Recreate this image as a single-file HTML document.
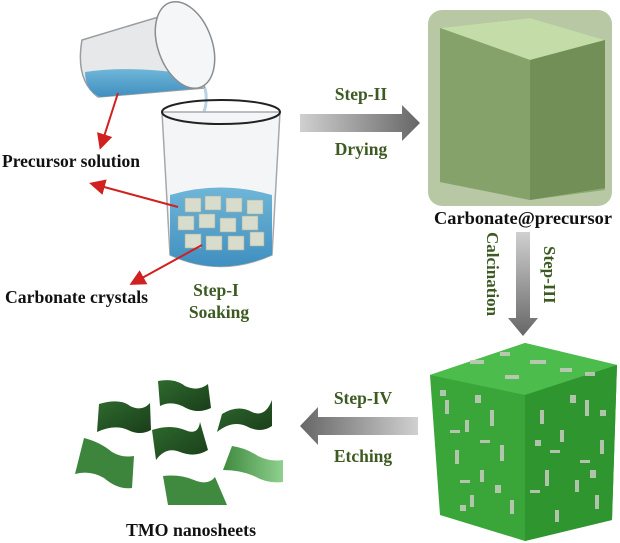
<!DOCTYPE html>
<html><head><meta charset="utf-8"><style>
html,body{margin:0;padding:0;background:#fff;width:620px;height:543px;overflow:hidden}
svg{display:block}
text{font-family:"Liberation Serif",serif;font-weight:bold}
</style></head><body>
<svg width="620" height="543" viewBox="0 0 620 543" xmlns="http://www.w3.org/2000/svg">
<defs>
<linearGradient id="ah" x1="0" x2="1"><stop offset="0" stop-color="#d0d0d0"/><stop offset="1" stop-color="#666"/></linearGradient>
<linearGradient id="ahl" x1="1" x2="0"><stop offset="0" stop-color="#d0d0d0"/><stop offset="1" stop-color="#666"/></linearGradient>
<linearGradient id="av" x1="0" x2="0" y1="0" y2="1"><stop offset="0" stop-color="#d0d0d0"/><stop offset="1" stop-color="#666"/></linearGradient>
<linearGradient id="sh" x1="0" x2="1" y1="0" y2="1"><stop offset="0" stop-color="#2e6a2e"/><stop offset="1" stop-color="#1a3d1a"/></linearGradient>
<linearGradient id="sh2" x1="0" x2="1"><stop offset="0" stop-color="#3f8a3f"/><stop offset="1" stop-color="#8fd08f"/></linearGradient>
<linearGradient id="wat" x1="0" x2="0" y1="0" y2="1"><stop offset="0" stop-color="#6fb6d8"/><stop offset="1" stop-color="#3f8fc0"/></linearGradient>
<marker id="rh" markerWidth="8" markerHeight="8" refX="6" refY="4" orient="auto"><path d="M0,0 L8,4 L0,8 Z" fill="#d02020"/></marker>
</defs>

<!-- tilted beaker -->
<g>
<path d="M82,40 L175,12 Q195,60 205,88 L98,97 Q75,80 82,40 Z" fill="#e6e8ea" stroke="#9a9ea2" stroke-width="1.5"/>
<path d="M85,72 Q130,65 195,75 L200,88 L100,97 Q85,90 85,72 Z" fill="url(#wat)"/>
<ellipse cx="185" cy="45" rx="27" ry="45" transform="rotate(-20 185 45)" fill="#f4f6f7" stroke="#8a8e92" stroke-width="1.5"/>
<path d="M205,88 Q208,100 204,112" stroke="#b8d4e4" stroke-width="3" fill="none"/>
</g>
<!-- big beaker -->
<g>
<path d="M162,112 L170,255 Q220,278 272,255 L280,112 Z" fill="#f3f5f6" stroke="#a5a9ad" stroke-width="1.5"/>
<path d="M170,195 Q220,180 272,195 L272,255 Q220,278 170,255 Z" fill="url(#wat)"/>
<g fill="#d8dccc" stroke="#a8ae98" stroke-width="0.6">
<rect x="185" y="198" width="16" height="14"/><rect x="205" y="196" width="16" height="14"/><rect x="226" y="198" width="16" height="14"/><rect x="247" y="200" width="16" height="14"/>
<rect x="178" y="216" width="16" height="14"/><rect x="199" y="214" width="16" height="14"/><rect x="220" y="218" width="16" height="14"/><rect x="242" y="216" width="16" height="14"/>
<rect x="185" y="234" width="16" height="14"/><rect x="206" y="236" width="16" height="14"/><rect x="228" y="236" width="16" height="14"/><rect x="250" y="232" width="14" height="14"/>
</g>
<ellipse cx="221" cy="112" rx="59" ry="12" fill="none" stroke="#222" stroke-width="2"/>
</g>
<!-- red arrows -->
<g stroke="#d02020" stroke-width="2" fill="none">
<line x1="118" y1="93" x2="101" y2="146" marker-end="url(#rh)"/>
<line x1="178" y1="207" x2="93" y2="184" marker-end="url(#rh)"/>
<line x1="202" y1="245" x2="133" y2="283" marker-end="url(#rh)"/>
</g>

<text x="2" y="167" font-size="17.5" fill="#111" textLength="138" lengthAdjust="spacingAndGlyphs">Precursor solution</text>
<text x="5" y="303" font-size="17.5" fill="#111" textLength="143" lengthAdjust="spacingAndGlyphs">Carbonate crystals</text>
<text x="216" y="296" font-size="17.5" fill="#3d5a22" text-anchor="middle">Step-I</text>
<text x="219" y="318" font-size="17.5" fill="#3d5a22" text-anchor="middle">Soaking</text>

<!-- step II arrow -->
<path d="M300,114 L402,114 L402,105 L420,123 L402,141 L402,132 L300,132 Z" fill="url(#ah)"/>
<text x="361" y="100" font-size="17.5" fill="#3d5a22" text-anchor="middle">Step-II</text>
<text x="361" y="155" font-size="17.5" fill="#3d5a22" text-anchor="middle">Drying</text>

<!-- precursor cube -->
<rect x="428" y="10" width="184" height="196" rx="14" fill="#b8c8a4"/>
<path d="M440,28 L530,18 L605,40 L605,190 L530,200 L440,182 Z" fill="#8fab72"/>
<path d="M440,28 L530,18 L605,40 L530,60 Z" fill="#c4dca8"/>
<path d="M530,60 L605,40 L605,188 L530,200 Z" fill="#718f56"/>
<path d="M440,28 L530,60 L530,200 L440,182 Z" fill="#86a26b"/>
<text x="523" y="224" font-size="17.5" fill="#111" text-anchor="middle" textLength="178" lengthAdjust="spacingAndGlyphs">Carbonate@precursor</text>

<!-- step III -->
<path d="M516,232 L530,232 L530,318 L538,318 L523,336 L508,318 L516,318 Z" fill="url(#av)"/>
<text transform="translate(487,232) rotate(90)" font-size="17" fill="#3d5a22">Calcination</text>
<text transform="translate(544,246) rotate(90)" font-size="17" fill="#3d5a22">Step-III</text>

<!-- textured cube -->
<g>
<path d="M430,375 L525,343 L617,365 L612,520 L525,541 L440,515 Z" fill="#3aa63a"/>
<path d="M430,375 L525,343 L617,365 L525,395 Z" fill="#4cbc4c"/>
<path d="M525,395 L617,365 L612,520 L525,541 Z" fill="#2f962f"/>
<g fill="#c8ccc0" opacity="0.85">
<rect x="470" y="360" width="14" height="4"/><rect x="500" y="352" width="10" height="4"/><rect x="530" y="360" width="16" height="4"/><rect x="560" y="368" width="12" height="4"/><rect x="585" y="372" width="10" height="4"/><rect x="505" y="375" width="14" height="4"/>
<rect x="445" y="400" width="4" height="14"/><rect x="465" y="420" width="4" height="12"/><rect x="490" y="410" width="4" height="16"/><rect x="455" y="450" width="4" height="14"/><rect x="480" y="470" width="4" height="12"/><rect x="500" y="445" width="4" height="16"/><rect x="470" y="495" width="4" height="12"/><rect x="510" y="500" width="4" height="14"/>
<rect x="540" y="410" width="4" height="14"/><rect x="560" y="430" width="4" height="12"/><rect x="585" y="400" width="4" height="16"/><rect x="600" y="440" width="4" height="14"/><rect x="545" y="470" width="4" height="16"/><rect x="575" y="480" width="4" height="12"/><rect x="595" y="495" width="4" height="14"/><rect x="555" y="510" width="4" height="12"/>
<rect x="450" y="430" width="10" height="3"/><rect x="480" y="440" width="10" height="3"/><rect x="550" y="450" width="10" height="3"/><rect x="580" y="460" width="10" height="3"/><rect x="460" y="480" width="10" height="3"/><rect x="530" y="490" width="10" height="3"/>
<rect x="440" y="390" width="6" height="6"/><rect x="475" y="395" width="6" height="8"/><rect x="460" y="505" width="6" height="6"/><rect x="570" y="395" width="6" height="8"/><rect x="600" y="410" width="6" height="6"/><rect x="590" y="470" width="6" height="8"/><rect x="535" y="440" width="6" height="6"/><rect x="495" y="485" width="6" height="8"/>
</g>
</g>

<!-- step IV arrow -->
<path d="M418,417 L318,417 L318,407 L300,426 L318,445 L318,435 L418,435 Z" fill="url(#ahl)"/>
<text x="363" y="404" font-size="17.5" fill="#3d5a22" text-anchor="middle">Step-IV</text>
<text x="363" y="462" font-size="17.5" fill="#3d5a22" text-anchor="middle">Etching</text>

<!-- nanosheets -->
<g>
<path d="M99,404 Q120,398 130,406 Q142,412 150,403 L151,430 Q140,436 128,430 Q115,424 97,432 Z" fill="url(#sh)"/>
<path d="M158,381 Q175,378 185,386 Q198,392 208,384 L211,408 Q198,414 186,408 Q172,400 160,406 Z" fill="url(#sh)"/>
<path d="M222,414 Q238,404 252,412 Q265,418 272,400 L272,426 Q260,434 246,426 Q232,420 217,432 Z" fill="url(#sh)"/>
<path d="M152,430 Q170,424 185,430 Q198,436 200,422 L208,450 Q195,458 180,452 Q166,446 156,460 Z" fill="url(#sh)"/>
<path d="M84,438 Q100,442 112,452 Q122,458 134,456 L132,488 Q118,490 104,478 Q90,470 75,474 Z" fill="#3d853d"/>
<path d="M232,446 Q246,448 258,456 Q270,462 283,460 L283,482 Q268,484 254,476 Q240,470 223,470 Z" fill="url(#sh2)"/>
<path d="M163,476 Q180,474 194,480 Q208,486 215,477 L227,505 L168,505 Z" fill="#3f8a3f"/>
</g>
<text x="191" y="536" font-size="17.5" fill="#111" text-anchor="middle" textLength="130" lengthAdjust="spacingAndGlyphs">TMO nanosheets</text>
</svg>
</body></html>
